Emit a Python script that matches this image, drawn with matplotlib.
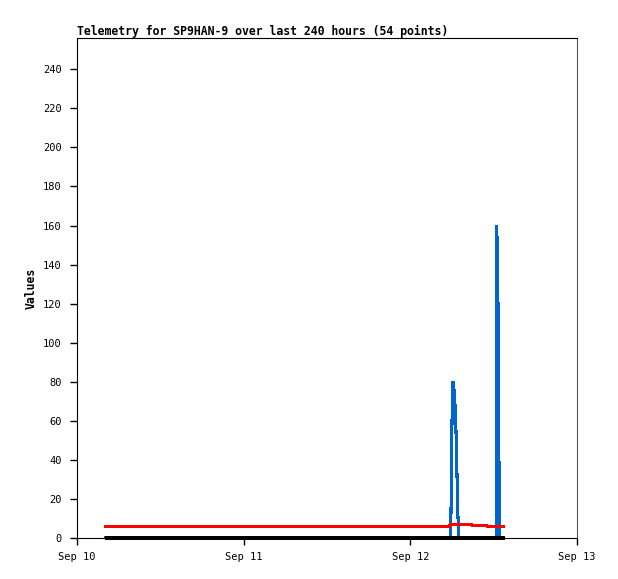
import matplotlib
matplotlib.use("Agg")
import matplotlib.pyplot as plt
import matplotlib.dates as mdates
from datetime import datetime, timedelta

# telemetry data, hours since Sep 10 00:00
start = datetime(2023, 9, 10)

black_hours = [4.0, 20.0, 40.0, 53.7, 55.0, 58.0, 60.5, 61.6]
black_values = [0, 0, 0, 0, 0, 0, 0, 0]

red_hours = [4.0, 30.0, 53.6, 53.75, 56.8, 56.95, 58.9, 59.05, 61.6]
red_values = [6.0, 6.0, 6.0, 7.0, 7.0, 6.5, 6.5, 6.0, 6.0]

blue_hours = [4.0, 53.8, 53.88, 54.0, 54.14, 54.29, 54.43, 54.58, 54.72, 54.86, 55.0,
              60.35, 60.45, 60.62, 60.76, 60.9, 61.6]
blue_values = [0, 0, 20, 60, 80, 76, 68, 54, 32, 11, 0,
               0, 160, 120, 40, 0, 0]

title = "Telemetry for SP9HAN-9 over last 240 hours (54 points)"


def to_dates(hours):
    return [start + timedelta(hours=h) for h in hours]


fig = plt.figure(figsize=(6.18, 5.79), dpi=100)
ax = fig.add_axes([77 / 618, 41 / 579, 500 / 618, 500 / 579])

line_kw = dict(antialiased=False, solid_joinstyle="miter", solid_capstyle="butt")
ax.plot(to_dates(blue_hours), blue_values, color="#0066cc", linewidth=1.5, **line_kw)
ax.plot(to_dates(red_hours), red_values, color="#ff0000", linewidth=1.5, **line_kw)
ax.plot(to_dates(black_hours), black_values, color="#000000", linewidth=1.5,
        clip_on=False, zorder=5, **line_kw)

ax.set_xlim(start, start + timedelta(days=3))
ax.set_ylim(0, 256)
ax.set_yticks(range(0, 241, 20))
ax.xaxis.set_major_locator(mdates.DayLocator())
ax.xaxis.set_major_formatter(mdates.DateFormatter("%b %d"))

mono = "DejaVu Sans Mono"
for lab in ax.get_xticklabels() + ax.get_yticklabels():
    lab.set_fontfamily(mono)
    lab.set_fontsize(7.5)
ax.tick_params(axis="both", direction="out", length=5, width=1, colors="black")
ax.tick_params(axis="y", pad=6)
ax.tick_params(axis="x", pad=5)

ax.set_title(title, loc="left", fontfamily=mono, fontweight="bold", fontsize=8.3, pad=2)
ax.set_ylabel("Values", fontfamily=mono, fontweight="bold", fontsize=8.3, labelpad=4)

for side in ["top", "left", "bottom"]:
    ax.spines[side].set_color("black")
ax.spines["right"].set_color("#555555")

fig.savefig("out.png", dpi=100)
